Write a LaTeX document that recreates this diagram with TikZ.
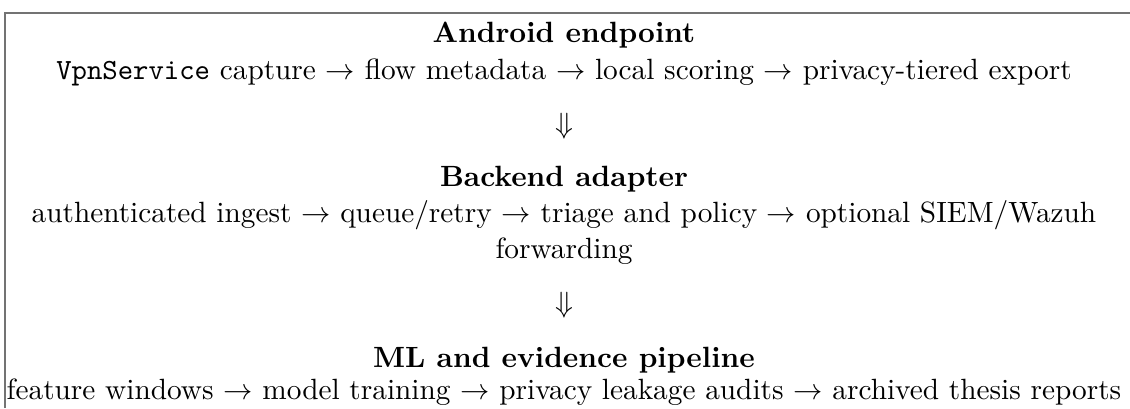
\documentclass[tikz,border=0pt]{standalone}
\usepackage{tikz}
\usetikzlibrary{positioning}

\tikzset{
	heading/.style={anchor=base, font=\bfseries, inner sep=0pt},
	flowline/.style={anchor=base, inner sep=0pt, align=center},
	downarrow/.style={anchor=base, inner sep=0pt},
	frameline/.style={line width=0.6pt, color=black!55}
}

\begin{document}
\begin{tikzpicture}[x=1pt, y=1pt]
		%%%%% START %%%%%
		
		\useasboundingbox (0, 0) rectangle (385.7, -139.3);
		
		% open frame, cut at right and bottom
		\coordinate (frametl) at (1.7, -4.4);
		\coordinate (framebl) at (1.7, -139.3);
		\coordinate (frametr) at (385.7, -4.4);
		\draw[frameline] (framebl) -- (frametl) -- (frametr);
		
		% endpoint
		\node[heading] (android) at (192.5, -14.6) {Android endpoint};
		\node[flowline] (androidflow) at (192.5, -27.3) {\texttt{VpnService} capture $\rightarrow$ flow metadata $\rightarrow$ local scoring $\rightarrow$ privacy-tiered export};
		
		\node[downarrow] (arrowa) at (192.5, -45.4) {$\Downarrow$};
		
		% backend (base of a two-line node is its last line)
		\node[heading] (backend) at (192.5, -63.5) {Backend adapter};
		\node[flowline] (backendflow) at (192.5, -88.1) {authenticated ingest $\rightarrow$ queue/retry $\rightarrow$ triage and policy $\rightarrow$ optional SIEM/Wazuh\\forwarding};
		
		\node[downarrow] (arrowb) at (192.5, -106.8) {$\Downarrow$};
		
		% ml
		\node[heading] (mlpipe) at (192.5, -125.3) {ML and evidence pipeline};
		\node[flowline] (mlflow) at (192.5, -136.2) {feature windows $\rightarrow$ model training $\rightarrow$ privacy leakage audits $\rightarrow$ archived thesis reports};
		
		%%%%% END %%%%%
	\end{tikzpicture}
\end{document}
